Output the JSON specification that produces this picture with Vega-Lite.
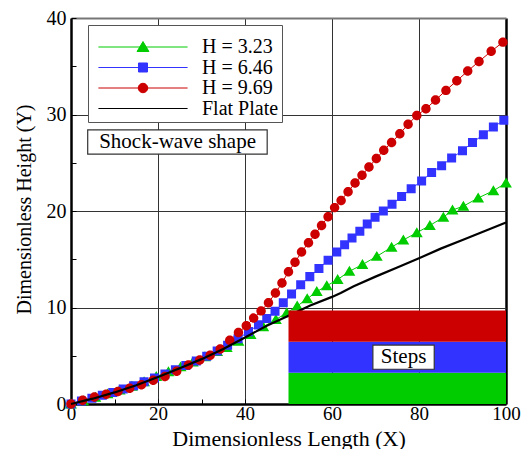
{
  "$schema": "https://vega.github.io/schema/vega-lite/v6.json",
  "width": 435,
  "height": 386,
  "autosize": {"type": "none"},
  "padding": {"left": 71, "top": 18, "right": 15, "bottom": 45},
  "background": "white",
  "config": {
    "font": "Liberation Serif",
    "view": {"stroke": null},
    "axis": {
      "labelFont": "Liberation Serif",
      "labelFontSize": 20,
      "labelColor": "black",
      "titleFont": "Liberation Serif",
      "titleFontSize": 21,
      "titleFontWeight": "normal",
      "titleColor": "black",
      "domainColor": "black",
      "domainWidth": 2.5,
      "tickColor": "black",
      "tickWidth": 1,
      "labelFlush": false,
      "labelOverlap": false
    }
  },
  "datasets": {
    "curves": [
      {"series": "H = 3.23", "x": 0, "y": 0}, {"series": "H = 3.23", "x": 2.8, "y": 0.35}, {"series": "H = 3.23", "x": 5.6, "y": 0.7}, {"series": "H = 3.23", "x": 8.4, "y": 1.05}, {"series": "H = 3.23", "x": 11.2, "y": 1.45}, {"series": "H = 3.23", "x": 14, "y": 1.85}, {"series": "H = 3.23", "x": 16.8, "y": 2.3}, {"series": "H = 3.23", "x": 19.6, "y": 2.85}, {"series": "H = 3.23", "x": 22.4, "y": 3.35}, {"series": "H = 3.23", "x": 25.2, "y": 3.85}, {"series": "H = 3.23", "x": 28, "y": 4.35}, {"series": "H = 3.23", "x": 30.8, "y": 4.9}, {"series": "H = 3.23", "x": 33.6, "y": 5.45}, {"series": "H = 3.23", "x": 35.8, "y": 5.85}, {"series": "H = 3.23", "x": 38.5, "y": 6.5}, {"series": "H = 3.23", "x": 41.3, "y": 7.2}, {"series": "H = 3.23", "x": 44.2, "y": 8.0}, {"series": "H = 3.23", "x": 47.1, "y": 8.75}, {"series": "H = 3.23", "x": 49.6, "y": 9.45}, {"series": "H = 3.23", "x": 52, "y": 10.15}, {"series": "H = 3.23", "x": 54.3, "y": 10.9}, {"series": "H = 3.23", "x": 56.5, "y": 11.65}, {"series": "H = 3.23", "x": 58.8, "y": 12.25}, {"series": "H = 3.23", "x": 61.3, "y": 12.9}, {"series": "H = 3.23", "x": 64, "y": 13.75}, {"series": "H = 3.23", "x": 67, "y": 14.45}, {"series": "H = 3.23", "x": 70.3, "y": 15.3}, {"series": "H = 3.23", "x": 73.7, "y": 16.25}, {"series": "H = 3.23", "x": 76.4, "y": 17.0}, {"series": "H = 3.23", "x": 79.5, "y": 17.75}, {"series": "H = 3.23", "x": 82.5, "y": 18.5}, {"series": "H = 3.23", "x": 85.6, "y": 19.35}, {"series": "H = 3.23", "x": 87.7, "y": 20.1}, {"series": "H = 3.23", "x": 90.2, "y": 20.5}, {"series": "H = 3.23", "x": 93.6, "y": 21.35}, {"series": "H = 3.23", "x": 97.1, "y": 22.1}, {"series": "H = 3.23", "x": 100, "y": 22.9},
      {"series": "H = 6.46", "x": 0, "y": 0}, {"series": "H = 6.46", "x": 2.4, "y": 0.3}, {"series": "H = 6.46", "x": 4.8, "y": 0.6}, {"series": "H = 6.46", "x": 7.2, "y": 0.9}, {"series": "H = 6.46", "x": 9.6, "y": 1.2}, {"series": "H = 6.46", "x": 12, "y": 1.55}, {"series": "H = 6.46", "x": 14.4, "y": 1.9}, {"series": "H = 6.46", "x": 16.8, "y": 2.3}, {"series": "H = 6.46", "x": 19.2, "y": 2.7}, {"series": "H = 6.46", "x": 21.6, "y": 3.1}, {"series": "H = 6.46", "x": 24, "y": 3.55}, {"series": "H = 6.46", "x": 26.4, "y": 4.0}, {"series": "H = 6.46", "x": 28.8, "y": 4.45}, {"series": "H = 6.46", "x": 31.2, "y": 4.95}, {"series": "H = 6.46", "x": 33.6, "y": 5.5}, {"series": "H = 6.46", "x": 36, "y": 6.1}, {"series": "H = 6.46", "x": 38.4, "y": 6.75}, {"series": "H = 6.46", "x": 40.8, "y": 7.5}, {"series": "H = 6.46", "x": 43.1, "y": 8.2}, {"series": "H = 6.46", "x": 45, "y": 8.85}, {"series": "H = 6.46", "x": 46.9, "y": 9.6}, {"series": "H = 6.46", "x": 48.8, "y": 10.5}, {"series": "H = 6.46", "x": 50.7, "y": 11.4}, {"series": "H = 6.46", "x": 52.8, "y": 12.35}, {"series": "H = 6.46", "x": 54.9, "y": 13.2}, {"series": "H = 6.46", "x": 57, "y": 14.05}, {"series": "H = 6.46", "x": 59.1, "y": 14.9}, {"series": "H = 6.46", "x": 61.1, "y": 15.75}, {"series": "H = 6.46", "x": 62.9, "y": 16.5}, {"series": "H = 6.46", "x": 64.6, "y": 17.2}, {"series": "H = 6.46", "x": 66.4, "y": 17.9}, {"series": "H = 6.46", "x": 68.1, "y": 18.65}, {"series": "H = 6.46", "x": 69.9, "y": 19.35}, {"series": "H = 6.46", "x": 71.8, "y": 20.0}, {"series": "H = 6.46", "x": 73.8, "y": 20.7}, {"series": "H = 6.46", "x": 76, "y": 21.5}, {"series": "H = 6.46", "x": 78.2, "y": 22.3}, {"series": "H = 6.46", "x": 80.6, "y": 23.1}, {"series": "H = 6.46", "x": 82.9, "y": 24.0}, {"series": "H = 6.46", "x": 85.2, "y": 24.7}, {"series": "H = 6.46", "x": 87.5, "y": 25.5}, {"series": "H = 6.46", "x": 90, "y": 26.25}, {"series": "H = 6.46", "x": 92.3, "y": 27.1}, {"series": "H = 6.46", "x": 94.8, "y": 27.9}, {"series": "H = 6.46", "x": 97.1, "y": 28.7}, {"series": "H = 6.46", "x": 99.5, "y": 29.4},
      {"series": "H = 9.69", "x": 0, "y": 0}, {"series": "H = 9.69", "x": 2.7, "y": 0.4}, {"series": "H = 9.69", "x": 5.4, "y": 0.72}, {"series": "H = 9.69", "x": 8.1, "y": 1.02}, {"series": "H = 9.69", "x": 10.8, "y": 1.3}, {"series": "H = 9.69", "x": 13.5, "y": 1.64}, {"series": "H = 9.69", "x": 16.2, "y": 2.0}, {"series": "H = 9.69", "x": 18.9, "y": 2.45}, {"series": "H = 9.69", "x": 21.6, "y": 2.85}, {"series": "H = 9.69", "x": 24.3, "y": 3.4}, {"series": "H = 9.69", "x": 27, "y": 4.05}, {"series": "H = 9.69", "x": 29.6, "y": 4.55}, {"series": "H = 9.69", "x": 32, "y": 5.05}, {"series": "H = 9.69", "x": 34.3, "y": 5.7}, {"series": "H = 9.69", "x": 36.5, "y": 6.6}, {"series": "H = 9.69", "x": 38.5, "y": 7.4}, {"series": "H = 9.69", "x": 40.3, "y": 8.1}, {"series": "H = 9.69", "x": 42, "y": 8.9}, {"series": "H = 9.69", "x": 43.7, "y": 9.65}, {"series": "H = 9.69", "x": 45.4, "y": 10.5}, {"series": "H = 9.69", "x": 47, "y": 11.5}, {"series": "H = 9.69", "x": 48.5, "y": 12.55}, {"series": "H = 9.69", "x": 50, "y": 13.7}, {"series": "H = 9.69", "x": 51.5, "y": 14.7}, {"series": "H = 9.69", "x": 53, "y": 15.75}, {"series": "H = 9.69", "x": 54.6, "y": 16.7}, {"series": "H = 9.69", "x": 56.1, "y": 17.6}, {"series": "H = 9.69", "x": 57.6, "y": 18.5}, {"series": "H = 9.69", "x": 59.1, "y": 19.4}, {"series": "H = 9.69", "x": 60.6, "y": 20.35}, {"series": "H = 9.69", "x": 62.1, "y": 21.1}, {"series": "H = 9.69", "x": 63.7, "y": 22.0}, {"series": "H = 9.69", "x": 65.3, "y": 22.9}, {"series": "H = 9.69", "x": 66.9, "y": 23.7}, {"series": "H = 9.69", "x": 68.5, "y": 24.55}, {"series": "H = 9.69", "x": 70.2, "y": 25.45}, {"series": "H = 9.69", "x": 71.9, "y": 26.3}, {"series": "H = 9.69", "x": 73.7, "y": 27.1}, {"series": "H = 9.69", "x": 75.6, "y": 28.0}, {"series": "H = 9.69", "x": 77.5, "y": 29.0}, {"series": "H = 9.69", "x": 79.5, "y": 29.9}, {"series": "H = 9.69", "x": 81.6, "y": 30.6}, {"series": "H = 9.69", "x": 83.8, "y": 31.5}, {"series": "H = 9.69", "x": 86.2, "y": 32.5}, {"series": "H = 9.69", "x": 88.7, "y": 33.5}, {"series": "H = 9.69", "x": 91.2, "y": 34.5}, {"series": "H = 9.69", "x": 93.8, "y": 35.5}, {"series": "H = 9.69", "x": 96.6, "y": 36.55}, {"series": "H = 9.69", "x": 99.3, "y": 37.5},
      {"series": "Flat Plate", "x": 0, "y": 0}, {"series": "Flat Plate", "x": 5, "y": 0.55}, {"series": "Flat Plate", "x": 10, "y": 1.2}, {"series": "Flat Plate", "x": 15, "y": 1.95}, {"series": "Flat Plate", "x": 20, "y": 2.8}, {"series": "Flat Plate", "x": 25, "y": 3.7}, {"series": "Flat Plate", "x": 30, "y": 4.65}, {"series": "Flat Plate", "x": 35, "y": 5.7}, {"series": "Flat Plate", "x": 40, "y": 6.9}, {"series": "Flat Plate", "x": 45, "y": 8.1}, {"series": "Flat Plate", "x": 50, "y": 9.15}, {"series": "Flat Plate", "x": 55, "y": 10.2}, {"series": "Flat Plate", "x": 60, "y": 11.1}, {"series": "Flat Plate", "x": 62, "y": 11.5}, {"series": "Flat Plate", "x": 65, "y": 12.2}, {"series": "Flat Plate", "x": 70, "y": 13.2}, {"series": "Flat Plate", "x": 75, "y": 14.15}, {"series": "Flat Plate", "x": 80, "y": 15.1}, {"series": "Flat Plate", "x": 85, "y": 16.1}, {"series": "Flat Plate", "x": 90, "y": 17.0}, {"series": "Flat Plate", "x": 95, "y": 17.9}, {"series": "Flat Plate", "x": 100, "y": 18.8}
    ],
    "steps": [
      {"series": "H = 3.23", "start": 50, "end": 100, "lo": 0, "hi": 3.23},
      {"series": "H = 6.46", "start": 50, "end": 100, "lo": 3.23, "hi": 6.46},
      {"series": "H = 9.69", "start": 50, "end": 100, "lo": 6.46, "hi": 9.69}
    ]
  },
  "layer": [
    {
      "data": {"name": "curves"},
      "transform": [{"filter": "datum.series !== 'Flat Plate'"}],
      "mark": {"type": "line", "strokeWidth": 1},
      "encoding": {
        "x": {
          "field": "x", "type": "quantitative",
          "scale": {"domain": [0, 100], "nice": false},
          "axis": {
            "title": "Dimensionless Length (X)",
            "titleFontSize": 22,
            "labelFontSize": 19,
            "values": [0, 5, 10, 15, 20, 25, 30, 35, 40, 45, 50, 55, 60, 65, 70, 75, 80, 85, 90, 95, 100],
            "labelExpr": "datum.value % 20 === 0 ? datum.label : ''",
            "tickSize": -5,
            "labelPadding": 5,
            "grid": true,
            "gridColor": {"condition": {"test": "datum.value === 100", "value": "black"}, "value": "#333"},
            "gridWidth": {"condition": {"test": "datum.value === 100", "value": 2.5}, "value": 1},
            "gridOpacity": {"condition": {"test": "datum.value % 20 === 0 && datum.value > 0", "value": 1}, "value": 0},
            "titleY": 41,
            "titleBaseline": "alphabetic"
          }
        },
        "y": {
          "field": "y", "type": "quantitative",
          "scale": {"domain": [0, 40], "nice": false},
          "axis": {
            "title": "Dimensionless Height (Y)",
            "titleFontSize": 20,
            "values": [0, 2.5, 5, 7.5, 10, 12.5, 15, 17.5, 20, 22.5, 25, 27.5, 30, 32.5, 35, 37.5, 40],
            "labelExpr": "datum.value % 10 === 0 ? datum.label : ''",
            "tickSize": -5,
            "labelPadding": 10,
            "grid": true,
            "gridColor": {"condition": {"test": "datum.value === 40", "value": "#777"}, "value": "#333"},
            "gridWidth": {"condition": {"test": "datum.value === 40", "value": 2}, "value": 1},
            "gridOpacity": {"condition": {"test": "datum.value % 10 === 0 && datum.value > 0", "value": 1}, "value": 0},
            "titleX": -47,
            "titleY": 191,
            "titleBaseline": "middle",
            "titleAngle": -90
          }
        },
        "color": {
          "field": "series", "type": "nominal",
          "scale": {"domain": ["H = 3.23", "H = 6.46", "H = 9.69", "Flat Plate"], "range": ["#00CC00", "#3333FF", "#CC0000", "#000000"]}
        }
      }
    },
    {
      "data": {"name": "curves"},
      "transform": [{"filter": "datum.series !== 'Flat Plate'"}],
      "mark": {"type": "point", "filled": true, "opacity": 1, "size": 90},
      "encoding": {
        "x": {"field": "x", "type": "quantitative"},
        "y": {"field": "y", "type": "quantitative"},
        "color": {
          "field": "series", "type": "nominal",
          "legend": {
            "orient": "none", "legendX": 17, "legendY": 7,
            "title": " ", "titleFontSize": 9, "titlePadding": 0,
            "padding": 3, "strokeColor": "#555", "fillColor": "white",
            "labelFont": "Liberation Serif", "labelFontSize": 20, "labelColor": "black",
            "rowPadding": 0.5, "symbolOffset": 42, "labelOffset": 49, "symbolSize": 90,
            "symbolStrokeWidth": 1,
            "encode": {"symbols": {"update": {"stroke": {"scale": "color", "field": "value"}, "strokeWidth": [{"test": "datum.value === 'Flat Plate'", "value": 2}, {"value": 1}]}}}
          }
        },
        "shape": {
          "field": "series", "type": "nominal",
          "scale": {
            "domain": ["H = 3.23", "H = 6.46", "H = 9.69", "Flat Plate"],
            "range": [
              "M-9.4,0H9.4M0,-1.15L1.25,0.95L-1.25,0.95Z",
              "M-9.4,0H9.4M-0.95,-0.95H0.95V0.95H-0.95Z",
              "M-9.4,0H9.4M-1,0A1,1,0,1,0,1,0A1,1,0,1,0,-1,0Z",
              "M-9.4,0H9.4"
            ]
          },
          "legend": {
            "orient": "none", "legendX": 17, "legendY": 7,
            "title": " ", "titleFontSize": 9, "titlePadding": 0,
            "padding": 3, "strokeColor": "#555", "fillColor": "white",
            "labelFont": "Liberation Serif", "labelFontSize": 20, "labelColor": "black",
            "rowPadding": 0.5, "symbolOffset": 42, "labelOffset": 49, "symbolSize": 90,
            "symbolStrokeWidth": 1,
            "encode": {"symbols": {"update": {"stroke": {"scale": "color", "field": "value"}, "strokeWidth": [{"test": "datum.value === 'Flat Plate'", "value": 2}, {"value": 1}]}}}
          }
        }
      }
    },
    {
      "data": {"name": "curves"},
      "transform": [{"filter": "datum.series === 'Flat Plate'"}],
      "mark": {"type": "line", "strokeWidth": 2.2},
      "encoding": {
        "x": {"field": "x", "type": "quantitative"},
        "y": {"field": "y", "type": "quantitative"},
        "color": {"field": "series", "type": "nominal"}
      }
    },
    {
      "data": {"name": "steps"},
      "mark": {"type": "rect", "opacity": 1},
      "encoding": {
        "x": {"field": "start", "type": "quantitative"},
        "x2": {"field": "end"},
        "y": {"field": "lo", "type": "quantitative"},
        "y2": {"field": "hi"},
        "color": {"field": "series", "type": "nominal"}
      }
    },
    {
      "data": {"values": [{}]},
      "mark": {"type": "rect", "fill": "white", "stroke": "#333", "strokeWidth": 1.2},
      "encoding": {
        "x": {"datum": 3.84, "type": "quantitative"},
        "x2": {"datum": 45.1},
        "y": {"datum": 25.9, "type": "quantitative"},
        "y2": {"datum": 28.4}
      }
    },
    {
      "data": {"values": [{}]},
      "mark": {"type": "text", "text": "Shock-wave shape", "font": "Liberation Serif", "fontSize": 21, "color": "black", "align": "center", "baseline": "middle"},
      "encoding": {
        "x": {"datum": 24.5, "type": "quantitative"},
        "y": {"datum": 27.15, "type": "quantitative"}
      }
    },
    {
      "data": {"values": [{}]},
      "mark": {"type": "rect", "fill": "white", "stroke": "#333", "strokeWidth": 1.2},
      "encoding": {
        "x": {"datum": 69.4, "type": "quantitative"},
        "x2": {"datum": 83.5},
        "y": {"datum": 3.6, "type": "quantitative"},
        "y2": {"datum": 6.11}
      }
    },
    {
      "data": {"values": [{}]},
      "mark": {"type": "text", "text": "Steps", "font": "Liberation Serif", "fontSize": 21, "color": "black", "align": "center", "baseline": "middle"},
      "encoding": {
        "x": {"datum": 76.45, "type": "quantitative"},
        "y": {"datum": 4.85, "type": "quantitative"}
      }
    }
  ]
}
